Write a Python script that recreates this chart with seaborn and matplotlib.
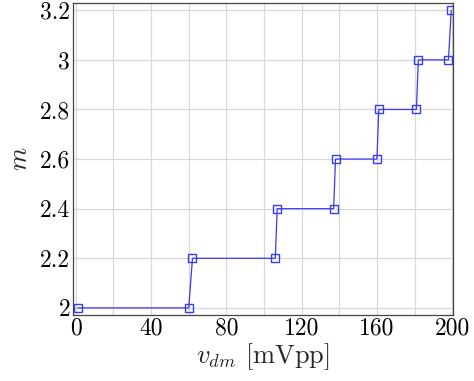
import numpy as np
import pandas as pd
import seaborn as sns
import matplotlib as mpl
mpl.use('Agg')
import matplotlib.pyplot as plt
from matplotlib.ticker import MultipleLocator

# data
v_dm = [1, 60, 62, 106, 107, 137, 138, 160, 161, 181, 182, 198, 199.5]
m_val = [2.0, 2.0, 2.2, 2.2, 2.4, 2.4, 2.6, 2.6, 2.8, 2.8, 3.0, 3.0, 3.2]
xticks = [0, 40, 80, 120, 160, 200]
yticks = [2.0, 2.2, 2.4, 2.6, 2.8, 3.0, 3.2]
ytick_labels = ['2', '2.2', '2.4', '2.6', '2.8', '3', '3.2']

df = pd.DataFrame({'v_dm': v_dm, 'm': m_val})

sns.set_style('white')
plt.rcParams['font.family'] = 'serif'
plt.rcParams['font.serif'] = ['cmr10', 'DejaVu Serif']
plt.rcParams['mathtext.fontset'] = 'cm'

fig = plt.figure(figsize=(4.74, 3.81), dpi=100)
ax = fig.add_axes([0.154, 0.173, 0.802, 0.819])

line_col = '#3a3af0'
sns.lineplot(data=df, x='v_dm', y='m', ax=ax, color=line_col, lw=0.9,
             marker='s', markersize=6.3, markerfacecolor='none',
             markeredgecolor=line_col, markeredgewidth=1.0, sort=False, zorder=3)

ax.set_xlim(-1.5, 200.5)
ax.set_ylim(1.971, 3.229)
ax.set_xticks(xticks)
ax.set_xticklabels([str(t) for t in xticks])
ax.xaxis.set_minor_locator(MultipleLocator(20))
ax.set_yticks(yticks)
ax.set_yticklabels(ytick_labels)

ax.grid(True, which='both', color='#d8d8d8', lw=0.9, zorder=0)
ax.tick_params(axis='both', which='both', direction='in', length=3.5,
               width=0.6, color='#555555', labelsize=17, pad=2,
               labelcolor='black')
ax.tick_params(axis='both', which='minor', length=2.5)
for s in ax.spines.values():
    s.set_color('#444444')
    s.set_linewidth(0.9)

ax.set_xlabel(r'$v_{dm}$ [mVpp]', fontsize=19, labelpad=1)
ax.set_ylabel(r'$m$', fontsize=19, labelpad=6)

fig.savefig('out.png', dpi=100)
plt.close(fig)
